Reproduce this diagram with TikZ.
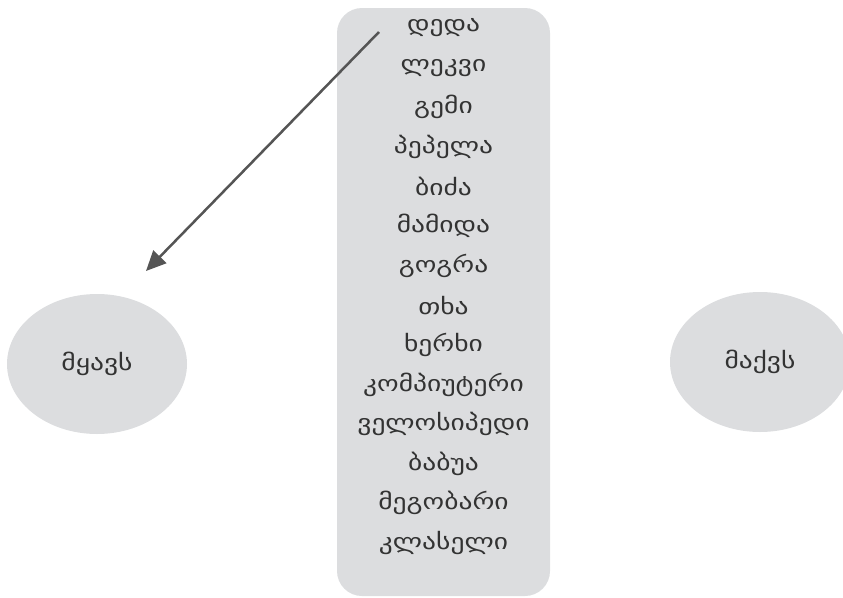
\documentclass[tikz,border=0pt]{standalone}
\usepackage{fontspec}
\setmainfont{DejaVu Sans}
\newfontfamily\geo[FakeStretch=1.25]{DejaVu Sans}
\usetikzlibrary{arrows.meta,shapes.geometric}
\definecolor{boxgray}{HTML}{DCDDDF}
\definecolor{txt}{HTML}{333333}
\definecolor{arr}{HTML}{555555}
\begin{document}
\begin{tikzpicture}[x=1pt,y=-1pt,
  word/.style={text=txt,font=\geo\fontsize{22}{24}\selectfont,inner sep=0pt,anchor=center},
  bubble/.style={ellipse,fill=boxgray,draw=none,minimum width=180pt,minimum height=140pt,text=txt,font=\geo\fontsize{22}{24}\selectfont},
  listbox/.style={rectangle,rounded corners=25pt,fill=boxgray,draw=none,minimum width=213pt,minimum height=588pt,inner sep=0pt},
  pointer/.style={draw=arr,line width=2.5pt,-{Triangle[length=20pt,width=18pt]}}]
\useasboundingbox (0,0) rectangle (843,597);
\node[listbox] (box) at (443.5,302) {};
\foreach \w [count=\i] in {დედა,ლეკვი,გემი,პეპელა,ბიძა,მამიდა,გოგრა,თხა,ხერხი,კომპიუტერი,ველოსიპედი,ბაბუა,მეგობარი,კლასელი}{
  \node[word] (w\i) at (443.5,{28+39.6*(\i-1)}) {\w};
}
\node[bubble] (have1) at (97,364) {მყავს};
\node[bubble] (have2) at (760,362) {მაქვს};
\coordinate (as) at (379,32);
\coordinate (ae) at (146,271);
\draw[pointer] (as) -- (ae);
\end{tikzpicture}
\end{document}
